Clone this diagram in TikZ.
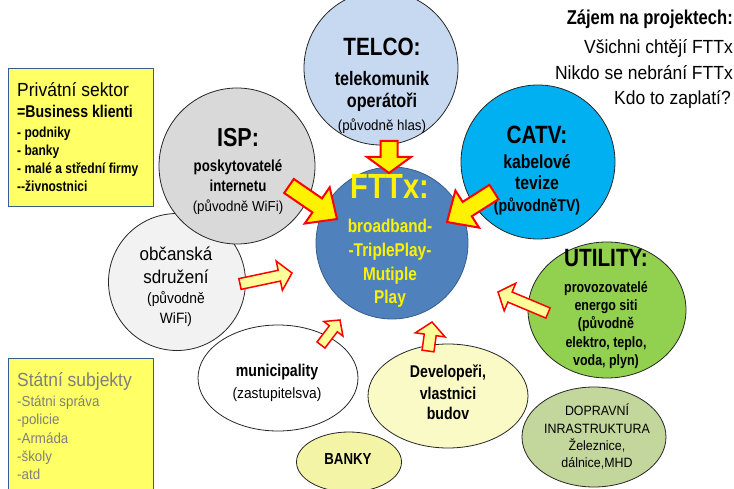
\documentclass[tikz,border=0pt]{standalone}
\usepackage{fontspec}
\setmainfont{Liberation Sans}
\newfontfamily\nbfam[FakeStretch=0.83]{Liberation Sans}
\newfontfamily\nrfam[FakeStretch=0.92]{Liberation Sans}
\usetikzlibrary{shapes.geometric,calc}
\newcommand\txb[1]{\nbfam\bfseries\fontsize{#1}{#1}\selectfont}
\newcommand\txr[1]{\nrfam\fontsize{#1}{#1}\selectfont}
\definecolor{ctelco}{HTML}{C6D9F1}
\definecolor{cisp}{HTML}{D9D9D9}
\definecolor{ccatv}{HTML}{00B0F0}
\definecolor{cfttx}{HTML}{4F81BD}
\definecolor{cfttxb}{HTML}{385D8A}
\definecolor{cobc}{HTML}{F2F2F2}
\definecolor{cdev}{HTML}{FAFAC6}
\definecolor{cbank}{HTML}{F4F4A6}
\definecolor{cutil}{HTML}{92D050}
\definecolor{cdop}{HTML}{C3D69B}
\definecolor{cybox}{HTML}{FFFF66}
\definecolor{cyboxb}{HTML}{385D8A}
\definecolor{carrl}{HTML}{FFFF99}
\definecolor{cgreytxt}{HTML}{7F7F7F}
\newcommand\blockarr[6]{%
  \coordinate (#3-h) at ($(#3)!#6!(#2)$);
  \draw[#1] ($(#2)!#4!90:(#3)$) -- ($(#3-h)!#4!90:(#3)$) -- ($(#3-h)!#5!90:(#3)$) -- (#3)
    -- ($(#3-h)!#5!-90:(#3)$) -- ($(#3-h)!#4!-90:(#3)$) -- ($(#2)!#4!-90:(#3)$) -- cycle;
}
\tikzset{
  bub/.style={draw=black!85, line width=0.8pt, inner sep=0pt},
  ell/.style={bub, ellipse},
  lbl/.style={inner sep=0pt, text height=0.7em, text depth=0pt, anchor=center},
  lbw/.style={lbl, anchor=west},
  lbe/.style={lbl, anchor=east},
  ybox/.style={draw=cyboxb, line width=1.2pt, fill=cybox, inner sep=0pt},
  bigarr/.style={draw=red, line width=2pt, fill=yellow, line join=miter},
  smallarr/.style={draw=red, line width=1.5pt, fill=carrl, line join=miter},
}
\begin{document}
\begin{tikzpicture}[x=1pt,y=-1pt]
\useasboundingbox (0,0) rectangle (734,489);

% yellow boxes
\node[ybox, minimum width=145pt, minimum height=138pt, anchor=north west] (priv) at (8,68) {};
\node[ybox, minimum width=145pt, minimum height=140pt, anchor=north west] (stat) at (8,358) {};

\node[lbw] (p1) at (17,93) {\txr{19}Privátní sektor};
\node[lbw] (p2) at (17,114) {\txb{17}=Business klienti};
\node[lbw] (p3) at (17,134) {\txb{14.5}- podniky};
\node[lbw] (p4) at (17,152) {\txb{14.5}- banky};
\node[lbw] (p5) at (17,170) {\txb{14.5}- malé a střední firmy};
\node[lbw] (p6) at (17,188) {\txb{14.5}--živnostnici};

\node[lbw, text=cgreytxt] (s1) at (17,383) {\txr{19}Státní subjekty};
\node[lbw, text=cgreytxt] (s2) at (17,403) {\txr{14.5}-Státni správa};
\node[lbw, text=cgreytxt] (s3) at (17,421) {\txr{14.5}-policie};
\node[lbw, text=cgreytxt] (s4) at (17,440) {\txr{14.5}-Armáda};
\node[lbw, text=cgreytxt] (s5) at (17,458) {\txr{14.5}-školy};
\node[lbw, text=cgreytxt] (s6) at (17,476) {\txr{14.5}-atd};

% top right text
\node[lbe] (z1) at (733,21.5) {\txb{20}Zájem na projektech:};
\node[lbe] (z2) at (733,50) {\txr{19}Všichni chtějí FTTx};
\node[lbe] (z3) at (733,76.5) {\txr{19}Nikdo se nebrání FTTx};
\node[lbe] (z4) at (731,101.5) {\txr{19}Kdo to zaplatí?};

% circles and ellipses
\node[bub, circle, fill=cobc, minimum size=137pt] (obc) at (177,282) {};
\node[bub, circle, fill=cisp, minimum size=156pt] (isp) at (237,166) {};
\node[bub, circle, fill=ctelco, minimum size=154pt] (telco) at (381,68) {};
\node[bub, circle, fill=ccatv, minimum size=154pt] (catv) at (538,162) {};
\node[bub, circle, fill=cfttx, draw=cfttxb, minimum size=152pt] (fttx) at (392,243) {};
\node[ell, fill=white, minimum width=160pt, minimum height=106pt] (muni) at (278,378) {};
\node[ell, fill=cdev, minimum width=160pt, minimum height=104pt] (dev) at (448,396) {};
\node[ell, fill=cbank, minimum width=105pt, minimum height=60pt] (bank) at (349,462) {};
\node[ell, fill=cutil, minimum width=158pt, minimum height=136pt] (util) at (607,310) {};
\node[ell, fill=cdop, minimum width=144pt, minimum height=100pt] (dop) at (594,437) {};

% TELCO text
\node[lbl] (te1) at (382,52) {\txb{25}TELCO:};
\node[lbl] (te2) at (382,82) {\txb{19.5}telekomunik};
\node[lbl] (te3) at (382,104) {\txb{19.5}operátoři};
\node[lbl] (te4) at (382,127) {\txr{14.5}(původně hlas)};

% ISP text
\node[lbl] (is1) at (238,143) {\txb{26}ISP:};
\node[lbl] (is2) at (238,168) {\txb{16}poskytovatelé};
\node[lbl] (is3) at (238,188) {\txb{16}internetu};
\node[lbl] (is4) at (238,208) {\txr{14.5}(původně WiFi)};

% CATV text
\node[lbl] (ca1) at (537,140) {\txb{25}CATV:};
\node[lbl] (ca2) at (537,165) {\txb{19}kabelové};
\node[lbl] (ca3) at (537,186) {\txb{19}tevize};
\node[lbl] (ca4) at (537,208) {\txb{17}(původněTV)};

% FTTx text
\node[lbl, text=yellow] (ft1) at (390,195.5) {\txb{35}FTTx:};
\node[lbl, text=yellow] (ft2) at (390,229) {\txb{18.5}broadband-};
\node[lbl, text=yellow] (ft3) at (390,253) {\txb{18.5}-TriplePlay-};
\node[lbl, text=yellow] (ft4) at (390,277) {\txb{18.5}Mutiple};
\node[lbl, text=yellow] (ft5) at (390,300) {\txb{18.5}Play};

% obcanska text
\node[lbl] (ob1) at (176,257) {\txr{18.5}občanská};
\node[lbl] (ob2) at (176,280) {\txr{18.5}sdružení};
\node[lbl] (ob3) at (176,300) {\txr{15}(původně};
\node[lbl] (ob4) at (176,320) {\txr{15}WiFi)};

% UTILITY text
\node[lbl] (ut1) at (606,263) {\txb{25}UTILITY:};
\node[lbl] (ut2) at (606,289) {\txb{15}provozovatelé};
\node[lbl] (ut3) at (606,307) {\txb{15}energo siti};
\node[lbl] (ut4) at (606,325) {\txb{15}(původně};
\node[lbl] (ut5) at (606,344) {\txb{15}elektro, teplo,};
\node[lbl] (ut6) at (606,362) {\txb{15}voda, plyn)};

% municipality
\node[lbl] (mu1) at (277,373) {\txb{17}municipality};
\node[lbl] (mu2) at (277,395) {\txr{15}(zastupitelsva)};

% developeri
\node[lbl] (de1) at (448,374) {\txb{17}Developeři,};
\node[lbl] (de2) at (448,396) {\txb{17}vlastnici};
\node[lbl] (de3) at (448,416) {\txb{17}budov};

% banky
\node[lbl] (ba1) at (348,461) {\txb{16}BANKY};

% dopravni
\node[lbl] (do1) at (597,412) {\txr{13.5}DOPRAVNÍ};
\node[lbl] (do2) at (597,430) {\txr{13.5}INRASTRUKTURA};
\node[lbl] (do3) at (597,447) {\txr{13.5}Železnice,};
\node[lbl] (do4) at (597,464) {\txr{13.5}dálnice,MHD};

% block arrows
\coordinate (aTt) at (389,141);  \coordinate (aTp) at (389,173);
\coordinate (aIt) at (289,186);  \coordinate (aIp) at (337,219);
\coordinate (aCt) at (494,192);  \coordinate (aCp) at (447,222);
\coordinate (aOt) at (240,284);  \coordinate (aOp) at (292,273);
\coordinate (aUt) at (548,313);  \coordinate (aUp) at (498,292);
\coordinate (aMt) at (321,345);  \coordinate (aMp) at (340,320);
\coordinate (aDt) at (428,351);  \coordinate (aDp) at (432,322);
\blockarr{bigarr}{aTt}{aTp}{8.5pt}{22pt}{16pt}
\blockarr{bigarr}{aIt}{aIp}{8.5pt}{22pt}{24pt}
\blockarr{bigarr}{aCt}{aCp}{8.5pt}{22pt}{24pt}
\blockarr{smallarr}{aOt}{aOp}{5.5pt}{15pt}{13pt}
\blockarr{smallarr}{aUt}{aUp}{5.5pt}{15pt}{13pt}
\blockarr{smallarr}{aMt}{aMp}{5pt}{12pt}{11pt}
\blockarr{smallarr}{aDt}{aDp}{6pt}{15pt}{13pt}
\end{tikzpicture}
\end{document}
